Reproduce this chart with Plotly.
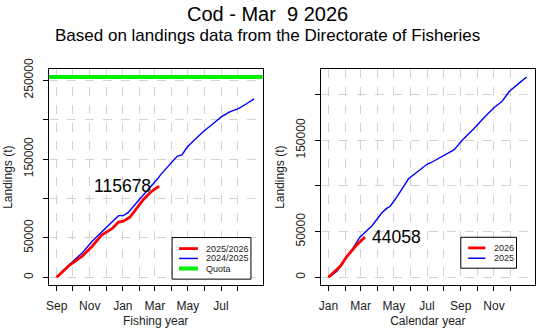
import plotly.graph_objects as go

# ---------------- data ----------------
# Fishing year panel: days since Sep 1
fy_cur_days = [0, 22, 47, 65, 83, 102, 114, 123, 135, 147, 160, 175, 189]
fy_cur_vals = [0, 14400, 26800, 39100, 53500, 61700, 70000, 71200, 76100, 86400, 98800, 109000, 115678]
fy_prev_days = [0, 22, 47, 65, 83, 102, 114, 123, 132, 150, 169, 187, 191, 207, 222, 231, 240, 252,
                271, 286, 304, 319, 335, 350, 364]
fy_prev_vals = [0, 15200, 30900, 45300, 57600, 70000, 78200, 78200, 82300, 96700, 111100, 125600,
                129600, 142000, 153500, 155200, 164600, 172800, 185200, 193400, 203700, 209900,
                214000, 220100, 226300]
quota = 254000

# Calendar year panel: days since Jan 1
cy_cur_days = [0, 22, 34, 50, 67]
cy_cur_vals = [0, 12400, 23000, 34300, 44058]
cy_prev_days = [0, 16, 32, 43, 58, 80, 98, 108, 113, 126, 147, 166, 181, 188, 212, 231, 246, 267,
                286, 304, 319, 332, 353, 364]
cy_prev_vals = [0, 7000, 21200, 30000, 44200, 56500, 70700, 76000, 77500, 88300, 107800, 116600,
                123700, 125400, 133300, 139700, 150300, 162600, 175000, 185600, 192700, 203300,
                213900, 219200]

fy_month_days = [0, 30, 61, 91, 122, 153, 181, 212, 242, 273, 303, 334]
fy_month_labels = ["Sep", "", "Nov", "", "Jan", "", "Mar", "", "May", "", "Jul", ""]
cy_month_days = [0, 31, 59, 90, 120, 151, 181, 212, 243, 273, 304, 334]
cy_month_labels = ["Jan", "", "Mar", "", "May", "", "Jul", "", "Sep", "", "Nov", ""]

fy_yticks = [0, 50000, 100000, 150000, 200000, 250000]
fy_ylabels = ["0", "50000", "", "150000", "", "250000"]
cy_yticks = [0, 50000, 100000, 150000, 200000]
cy_ylabels = ["0", "50000", "", "150000", ""]

fy_names = ["2025/2026", "2024/2025", "Quota"]
cy_names = ["2026", "2025"]
colors = {"cur": "#ff0000", "prev": "#0000ff", "quota": "#00ee00"}

title = "Cod - Mar\u00a0 9 2026"
subtitle = "Based on landings data from the Directorate of Fisheries"

FONT = "Liberation Sans, Arial, sans-serif"

fig = go.Figure()

# left panel
fig.add_trace(go.Scatter(x=[-20, 400], y=[quota, quota], mode="lines",
                         line=dict(color=colors["quota"], width=4), xaxis="x", yaxis="y",
                         showlegend=False, hoverinfo="skip"))
fig.add_trace(go.Scatter(x=fy_prev_days, y=fy_prev_vals, mode="lines",
                         line=dict(color=colors["prev"], width=1.4), xaxis="x", yaxis="y",
                         showlegend=False))
fig.add_trace(go.Scatter(x=fy_cur_days, y=fy_cur_vals, mode="lines",
                         line=dict(color=colors["cur"], width=2.8), xaxis="x", yaxis="y",
                         showlegend=False))
# right panel
fig.add_trace(go.Scatter(x=cy_prev_days, y=cy_prev_vals, mode="lines",
                         line=dict(color=colors["prev"], width=1.4), xaxis="x2", yaxis="y2",
                         showlegend=False))
fig.add_trace(go.Scatter(x=cy_cur_days, y=cy_cur_vals, mode="lines",
                         line=dict(color=colors["cur"], width=2.8), xaxis="x2", yaxis="y2",
                         showlegend=False))

W, H = 555, 333
def px(x):
    return x / W
def py(y):
    return 1 - y / H

fy_top = max(quota, max(fy_prev_vals))
cy_top = max(max(cy_prev_vals), max(cy_cur_vals))

axis_common = dict(showline=True, mirror=True, linecolor="black", linewidth=1,
                   ticks="outside", ticklen=5, tickcolor="black", tickwidth=1,
                   showgrid=True, gridcolor="#d3d3d3", griddash="dash", gridwidth=1,
                   zeroline=False, tickfont=dict(family=FONT, size=12, color="#222"),
                   tickmode="array", fixedrange=True)
xa = dict(ticklabelstandoff=4)
ya = dict(ticklabelstandoff=5, tickangle=-90)

fig.update_layout(
    width=W, height=H, margin=dict(l=0, r=0, t=0, b=0),
    paper_bgcolor="white", plot_bgcolor="white", showlegend=False,
    font=dict(family=FONT, color="black"),
    xaxis=dict(axis_common, **xa, domain=[px(46), px(261)], range=[-0.04 * 365, 1.04 * 365],
               tickvals=fy_month_days, ticktext=fy_month_labels, anchor="y",
               title=dict(text="Fishing year", font=dict(size=12, family=FONT, color="#222"), standoff=4)),
    yaxis=dict(axis_common, **ya, domain=[py(283.7), py(60)], range=[-0.04 * fy_top, 1.04 * fy_top],
               tickvals=fy_yticks, ticktext=fy_ylabels, anchor="x",
               title=dict(text="Landings (t)", font=dict(size=12, family=FONT, color="#222"), standoff=6)),
    xaxis2=dict(axis_common, **xa, domain=[px(319.3), px(535)], range=[-0.04 * 365, 1.04 * 365],
                tickvals=cy_month_days, ticktext=cy_month_labels, anchor="y2",
                title=dict(text="Calendar year", font=dict(size=12, family=FONT, color="#222"), standoff=4)),
    yaxis2=dict(axis_common, **ya, domain=[py(283.7), py(60)], range=[-0.04 * cy_top, 1.04 * cy_top],
                tickvals=cy_yticks, ticktext=cy_ylabels, anchor="x2",
                title=dict(text="Landings (t)", font=dict(size=12, family=FONT, color="#222"), standoff=6)),
)

annotations = [
    dict(text=title, x=px(266), y=py(3), xref="paper", yref="paper", showarrow=False,
         xanchor="center", yanchor="middle", font=dict(size=20, family=FONT, color="black")),
    dict(text=subtitle, x=px(266), y=py(25), xref="paper", yref="paper", showarrow=False,
         xanchor="center", yanchor="middle", font=dict(size=17, family=FONT, color="black")),
    dict(text=str(fy_cur_vals[-1]), x=fy_cur_days[-1], y=fy_cur_vals[-1], xref="x", yref="y",
         showarrow=False, xanchor="right", yanchor="middle", xshift=-6,
         font=dict(size=17.5, family=FONT, color="black")),
    dict(text=str(cy_cur_vals[-1]), x=cy_cur_days[-1], y=cy_cur_vals[-1], xref="x2", yref="y2",
         showarrow=False, xanchor="left", yanchor="middle", xshift=5,
         font=dict(size=17.5, family=FONT, color="black")),
]

shapes = []
# manual legends (R-style boxes)
def add_legend(box, line_x, text_x, rows, names, cols, widths):
    x0, x1, y0, y1 = box
    shapes.append(dict(type="rect", xref="paper", yref="paper", x0=px(x0), x1=px(x1),
                       y0=py(y1), y1=py(y0), line=dict(color="black", width=1),
                       fillcolor="white", layer="above"))
    for r, n, c, w in zip(rows, names, cols, widths):
        shapes.append(dict(type="line", xref="paper", yref="paper", x0=px(line_x[0]), x1=px(line_x[1]),
                           y0=py(r), y1=py(r), line=dict(color=c, width=w), layer="above"))
        annotations.append(dict(text=n, x=px(text_x), y=py(r), xref="paper", yref="paper",
                                showarrow=False, xanchor="left", yanchor="middle",
                                font=dict(size=9, family=FONT, color="#222")))

add_legend((170, 249.3, 234.3, 277.3), (177, 196), 202, [245.7, 255.9, 266.3], fy_names,
           [colors["cur"], colors["prev"], colors["quota"]], [2.8, 1.5, 4])
add_legend((460.3, 516.3, 234, 266), (467.7, 485), 492, [245, 255.7], cy_names,
           [colors["cur"], colors["prev"]], [2.8, 1.5])

fig.update_layout(annotations=annotations, shapes=shapes)

fig.write_html("out.html", config={"displayModeBar": False})
